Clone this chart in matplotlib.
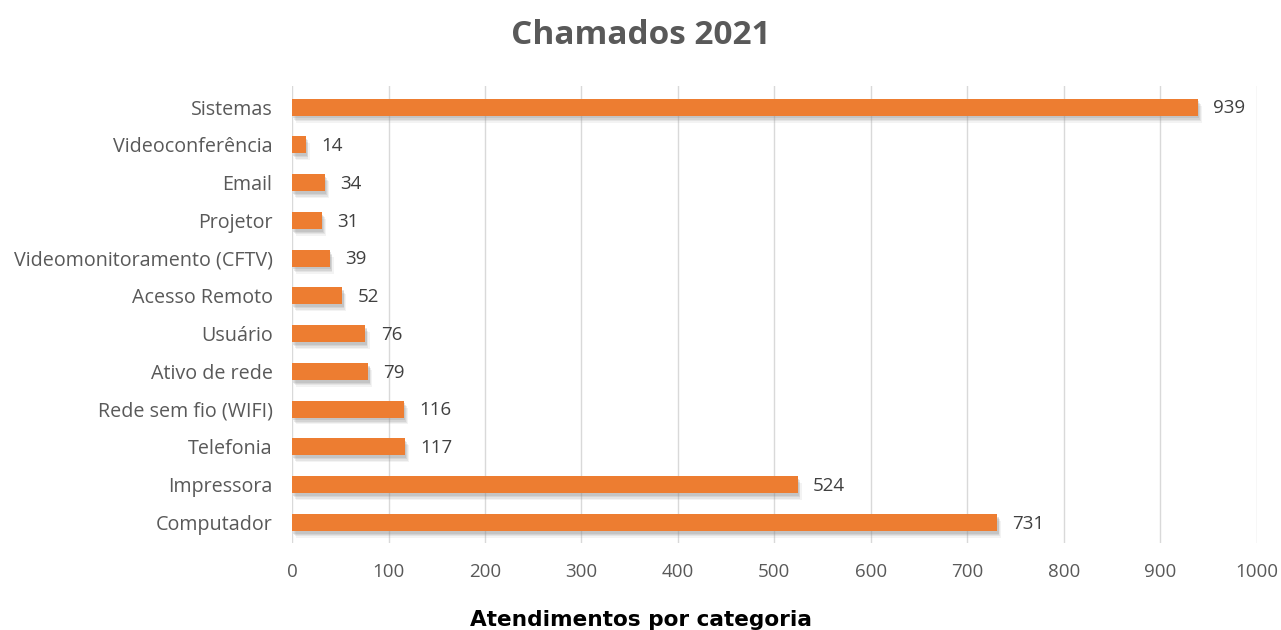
import matplotlib
matplotlib.use("Agg")
import matplotlib.pyplot as plt
import matplotlib.patheffects as pe

categories = ["Computador", "Impressora", "Telefonia", "Rede sem fio (WIFI)",
              "Ativo de rede", "Usuário", "Acesso Remoto",
              "Videomonitoramento (CFTV)", "Projetor", "Email",
              "Videoconferência", "Sistemas"]
values = [731, 524, 117, 116, 79, 76, 52, 39, 31, 34, 14, 939]
x_ticks = [0, 100, 200, 300, 400, 500, 600, 700, 800, 900, 1000]

plt.rcParams['font.family'] = ['Open Sans', 'DejaVu Sans']

fig = plt.figure(figsize=(12.81, 6.30), dpi=100)
ax = fig.add_axes([0.228, 0.138, 0.753, 0.725])

bar_color = "#ED7D31"
y = list(range(len(categories)))
bars = ax.barh(y, values, height=0.45, color=bar_color, zorder=3)
# soft drop shadow built from a few faint offset copies
shadow = [pe.SimplePatchShadow(offset=(dx, -dy), shadow_rgbFace="#8c8c8c", alpha=a)
          for dx, dy, a in [(3, 5, 0.1), (2, 4, 0.14), (1.5, 3, 0.18), (1, 2, 0.22)]]
for b in bars:
    b.set_path_effects(shadow + [pe.Normal()])

for yi, v in zip(y, values):
    ax.annotate(str(v), xy=(v, yi), xytext=(11, -1), textcoords="offset points",
                va="center", ha="left", fontsize=13.5, color="#404040")

ax.set_xlim(0, 1000)
ax.set_ylim(-0.55, len(categories) - 0.45)
ax.set_xticks(x_ticks)
ax.set_yticks(y)
ax.set_yticklabels(categories)
ax.tick_params(axis="both", length=0, labelsize=13.5, labelcolor="#595959")
ax.tick_params(axis="y", labelsize=14.2)
ax.tick_params(axis="x", pad=14)
ax.tick_params(axis="y", pad=14)
ax.grid(axis="x", color="#d9d9d9", linewidth=1, zorder=0)
for s in ax.spines.values():
    s.set_visible(False)

fig.text(0.5, 0.943, "Chamados 2021", ha="center", va="center",
         fontsize=24, fontweight="bold", color="#595959")
fig.text(0.5, 0.016, "Atendimentos por categoria", ha="center", va="center",
         fontsize=15.6, fontweight="bold", color="#000000", family=["DejaVu Sans"])

fig.savefig("out.png", dpi=100, facecolor="white")
